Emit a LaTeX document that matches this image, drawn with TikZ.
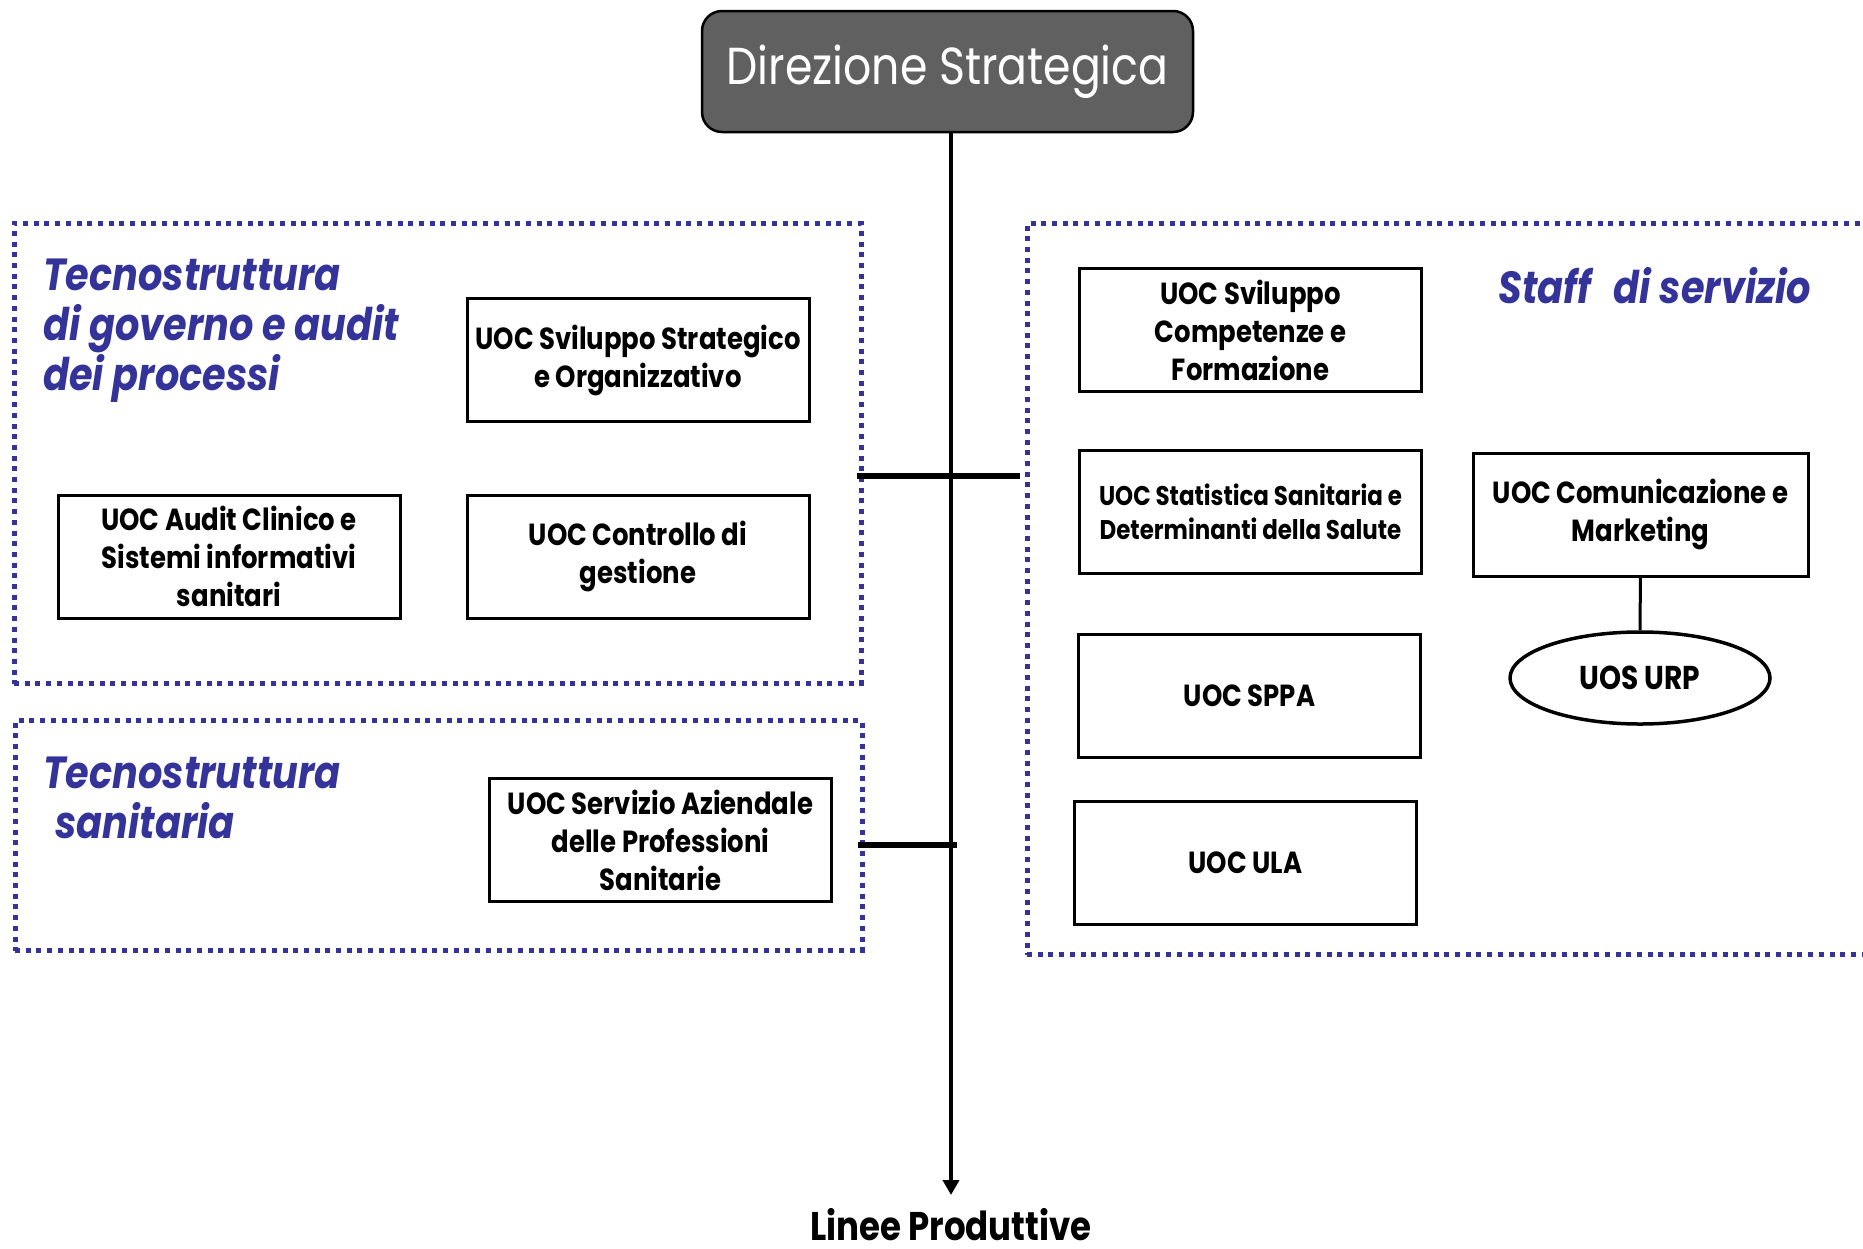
\documentclass[tikz,border=0pt]{standalone}
\usepackage{fontspec}
\setmainfont[FakeStretch=0.85]{Poppins}
\usetikzlibrary{shapes.geometric,arrows.meta}
\definecolor{areablue}{RGB}{51,51,153}
\definecolor{dirgray}{RGB}{96,96,96}
\tikzstyle{direzione} = [draw, fill=dirgray, rounded corners=20pt, line width=2.5pt,
    minimum width=491pt, minimum height=121pt, text=white,
    font=\fontsize{52}{56}\selectfont]
\tikzstyle{uoc} = [draw, rectangle, line width=3pt, inner sep=0pt,
    minimum width=342pt, minimum height=123pt, align=center,
    font=\bfseries\fontsize{30.5}{38}\selectfont]
\tikzstyle{uos} = [draw, ellipse, line width=3.5pt, inner sep=0pt,
    minimum width=260pt, minimum height=92pt,
    font=\bfseries\fontsize{33}{38}\selectfont]
\tikzstyle{area} = [draw=areablue, line width=5pt, dash pattern=on 5pt off 5.7pt,
    rectangle, inner sep=0pt]
\tikzstyle{areatitle} = [anchor=base west, align=left, inner sep=0pt, text=areablue,
    font=\bfseries\itshape\fontsize{45}{50}\selectfont]
\tikzstyle{trunk} = [line width=4.5pt]
\tikzstyle{branch} = [line width=6pt]

\begin{document}
\begin{tikzpicture}[x=1pt, y=-1pt]
    \clip (0,0) rectangle (1863,1248);

    % Vertice
    \node [direzione] (dir) at (947.5,71.5) {Direzione Strategica};

    % Aree tratteggiate
    \node [area, minimum width=847pt, minimum height=460pt] (gov) at (437.5,453.5) {};
    \node [area, minimum width=847pt, minimum height=230pt] (san) at (438.5,835.5) {};
    \node [area, minimum width=880pt, minimum height=731pt] (staff) at (1467,589) {};

    % Titoli delle aree (base = ultima riga)
    \node [areatitle] (govtitle) at (43,390)
        {Tecnostruttura\\di governo e audit\\dei processi};
    \node [areatitle] (santitle) at (43,838)
        {Tecnostruttura\\\hspace*{12pt}sanitaria};
    \node [areatitle] (stafftitle) at (1498,303) {Staff\hspace{14pt} di servizio};

    % Tecnostruttura di governo e audit dei processi
    \node [uoc] (svilstrat) at (638,360) {UOC Sviluppo Strategico\\e Organizzativo};
    \node [uoc] (audit) at (229,556.5) {UOC Audit Clinico e\\Sistemi informativi\\sanitari};
    \node [uoc] (controllo) at (638,556.5) {UOC Controllo di\\gestione};

    % Tecnostruttura sanitaria
    \node [uoc] (professioni) at (660.5,840) {UOC Servizio Aziendale\\delle Professioni\\Sanitarie};

    % Staff di servizio
    \node [uoc] (competenze) at (1250.5,330) {UOC Sviluppo\\Competenze e\\Formazione};
    \node [uoc, font=\bfseries\fontsize{27}{34}\selectfont] (statistica) at (1250.5,511.5)
        {UOC Statistica Sanitaria e\\Determinanti della Salute};
    \node [uoc] (sppa) at (1249.5,695.5) {UOC SPPA};
    \node [uoc] (ula) at (1245.5,863) {UOC ULA};
    \node [uoc, minimum width=335pt] (comunicazione) at (1640.5,514.5)
        {UOC Comunicazione e\\Marketing};
    \node [uos] (urp) at (1640,678) {UOS URP};

    % Uscita
    \coordinate (fine) at (951,1195);
    \node [anchor=base, inner sep=0pt, font=\bfseries\fontsize{40}{44}\selectfont]
        (linee) at (951,1240) {Linee Produttive};

    % Collegamenti
    \draw [trunk, -{Triangle[length=15pt,width=16pt]}] (dir.south -| fine) -- (fine);
    \coordinate (jgov) at (951,476);
    \coordinate (jsan) at (951,845);
    \draw [branch] ([xshift=-7pt]gov.east |- jgov) -- ([xshift=-5pt]staff.west |- jgov);
    \draw [branch] ([xshift=-7pt]san.east |- jsan) -- ([xshift=6pt]jsan);
    \draw [line width=3pt] (comunicazione) -- (urp);
\end{tikzpicture}
\end{document}
